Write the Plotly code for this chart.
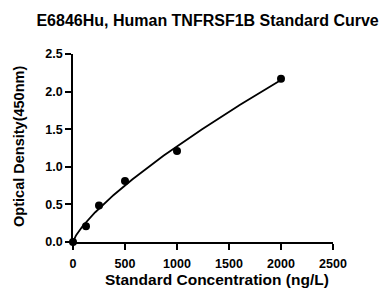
import numpy as np
import plotly.graph_objects as go

conc = [0, 125, 250, 500, 1000, 2000]
od = [0.0, 0.21, 0.485, 0.81, 1.21, 2.17]
x_ticks = [0, 500, 1000, 1500, 2000, 2500]
y_ticks = [0.0, 0.5, 1.0, 1.5, 2.0, 2.5]

# power-law fit y = a * x^b (least squares)
xa = np.array(conc, float)
ya = np.array(od, float)
best = None
for b in np.linspace(0.4, 1.2, 801):
    xb = xa ** b
    a = (ya * xb).sum() / (xb * xb).sum()
    err = ((ya - a * xb) ** 2).sum()
    if best is None or err < best[0]:
        best = (err, a, b)
_, A, B = best
xf = np.linspace(0, 2000, 300)
yf = A * xf ** B

font = "Liberation Sans, Arial, sans-serif"
fig = go.Figure()
fig.add_trace(go.Scatter(x=xf, y=yf, mode="lines", line=dict(color="black", width=1.8),
                         hoverinfo="skip", cliponaxis=False))
fig.add_trace(go.Scatter(x=conc, y=od, mode="markers",
                         marker=dict(color="black", size=8), cliponaxis=False))
fig.update_layout(
    width=383, height=289, showlegend=False,
    plot_bgcolor="white", paper_bgcolor="white",
    margin=dict(l=73, r=50, t=54, b=47, autoexpand=False),
    title=dict(text="<b>E6846Hu, Human TNFRSF1B Standard Curve</b>", x=0.542, xanchor="center",
               y=1 - 20 / 289, yanchor="middle", font=dict(family=font, size=16, color="black")),
    font=dict(family=font, color="black"),
)
fig.add_annotation(text="<b>Standard Concentration (ng/L)</b>", xref="paper", yref="paper",
                   x=0.554, y=-0.2, xanchor="center", yanchor="middle", showarrow=False,
                   font=dict(family=font, size=15.5, color="black"))
fig.add_annotation(text="<b>Optical Density(450nm)</b>", xref="paper", yref="paper",
                   x=-0.2077, y=0.511, xanchor="center", yanchor="middle", showarrow=False,
                   textangle=-90, font=dict(family=font, size=14.5, color="black"))
fig.update_xaxes(range=[0, 2500], tickvals=x_ticks, ticktext=[f"<b>{v}</b>" for v in x_ticks],
                 showgrid=False, zeroline=False, showline=True, linecolor="black", linewidth=1.8,
                 ticks="outside", ticklen=6, tickwidth=1.8, tickcolor="black",
                 ticklabelstandoff=3,
                 tickfont=dict(family=font, size=12.5))
fig.update_yaxes(range=[0, 2.5], tickvals=y_ticks, ticktext=[f"<b>{v:.1f}</b>" for v in y_ticks],
                 showgrid=False, zeroline=False, showline=True, linecolor="black", linewidth=1.8,
                 ticks="outside", ticklen=6, tickwidth=1.8, tickcolor="black",
                 tickfont=dict(family=font, size=12.5))
fig.write_html("out.html", config={"displayModeBar": False},
               post_script="document.body.style.margin='0';")
